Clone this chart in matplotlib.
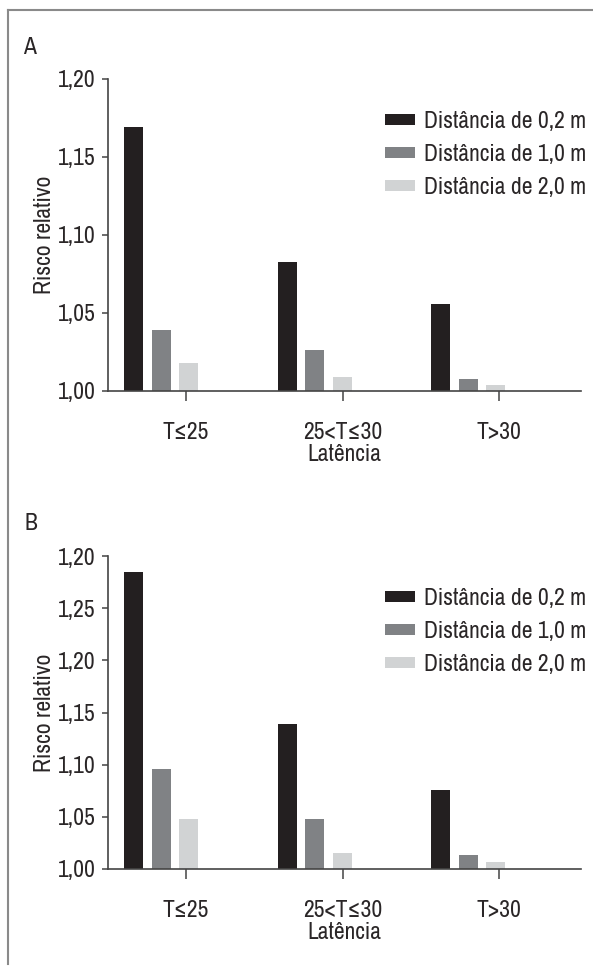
import matplotlib
matplotlib.use("Agg")
import matplotlib.pyplot as plt
from matplotlib.lines import Line2D
from matplotlib.patches import Patch
from matplotlib.ticker import FixedLocator

plt.rcParams['font.family'] = ['Archivo Narrow', 'DejaVu Sans']

categories = ["T≤25", "25<T≤30", "T>30"]
series = ["Distância de 0,2 m", "Distância de 1,0 m", "Distância de 2,0 m"]
colors = ["#231f20", "#808285", "#d1d3d4"]

# panel A values
vals_a = [
    [1.169, 1.083, 1.056],
    [1.039, 1.026, 1.008],
    [1.018, 1.009, 1.004],
]
ticks_a = [1.00, 1.05, 1.10, 1.15, 1.20]
labels_a = ["1,00", "1,05", "1,10", "1,15", "1,20"]

# panel B values
vals_b = [
    [1.285, 1.139, 1.076],
    [1.096, 1.048, 1.013],
    [1.048, 1.015, 1.007],
]
ticks_b = [1.00, 1.05, 1.10, 1.15, 1.20, 1.25, 1.30]
labels_b = ["1,00", "1,05", "1,10", "1,15", "1,20", "1,25", "1,20"]  # as printed

W, H = 593, 966
fig = plt.figure(figsize=(W / 100, H / 100), dpi=100)

AXCOL = "#444444"
TXT = "#2a2627"
FS = 17


def draw_panel(rect, vals, ticks, labels, letter, letter_xy, leg_y):
    ax = fig.add_axes(rect)
    # x in pixel-like units from the y axis
    for k, (name, col) in enumerate(zip(series, colors)):
        xs = [25.5 + 153.5 * g + 27.5 * k for g in range(len(categories))]
        ax.bar(xs, [v - 1.0 for v in vals[k]], bottom=1.0, width=19,
               color=col, label=name, linewidth=0)
    ax.set_xlim(0, 473)
    ax.set_ylim(ticks[0], ticks[-1])
    ax.yaxis.set_major_locator(FixedLocator(ticks))
    ax.set_yticklabels(labels)
    ax.set_xticks([78 + 156.5 * g for g in range(len(categories))])
    ax.set_xticklabels(categories)
    for s in ["top", "right"]:
        ax.spines[s].set_visible(False)
    for s in ["left", "bottom"]:
        ax.spines[s].set_color(AXCOL)
        ax.spines[s].set_linewidth(1.2)
    ax.tick_params(axis="y", length=4, width=1.1, color=AXCOL, pad=5,
                   labelsize=FS, labelcolor=TXT)
    ax.tick_params(axis="x", length=7, width=1.1, color=AXCOL, pad=15,
                   labelsize=FS, labelcolor=TXT)
    ax.set_xlabel("Latência", fontsize=FS, color=TXT, labelpad=1)
    ax.set_ylabel("Risco relativo", fontsize=FS, color=TXT, labelpad=2)
    handles = [Patch(facecolor=c, edgecolor="none") for c in colors]
    ax.legend(handles, series, loc="upper left", bbox_to_anchor=(0.585, leg_y),
              frameon=False, fontsize=FS, handlelength=1.3, handleheight=0.36,
              handletextpad=0.35, labelspacing=0.5, borderpad=0, borderaxespad=0,
              labelcolor=TXT)
    fig.text(letter_xy[0] / W, 1 - letter_xy[1] / H, letter, fontsize=FS,
             color=TXT, ha="left", va="center")
    return ax


draw_panel([108 / W, 1 - 391 / H, 473 / W, 312 / H], vals_a, ticks_a, labels_a,
           "A", (23, 48), 0.897)
draw_panel([108 / W, 1 - 869 / H, 473 / W, 313 / H], vals_b, ticks_b, labels_b,
           "B", (24, 524), 0.897)

# outer frame: top and left edges only
FRAME = "#8a8a8a"
fig.add_artist(Line2D([8 / W, 1], [1 - 10 / H, 1 - 10 / H], color=FRAME, lw=1.5,
                      transform=fig.transFigure))
fig.add_artist(Line2D([8 / W, 8 / W], [1 - 10 / H, 1 - 964 / H], color=FRAME, lw=1.5,
                      transform=fig.transFigure))

fig.savefig("out.png", dpi=100)
